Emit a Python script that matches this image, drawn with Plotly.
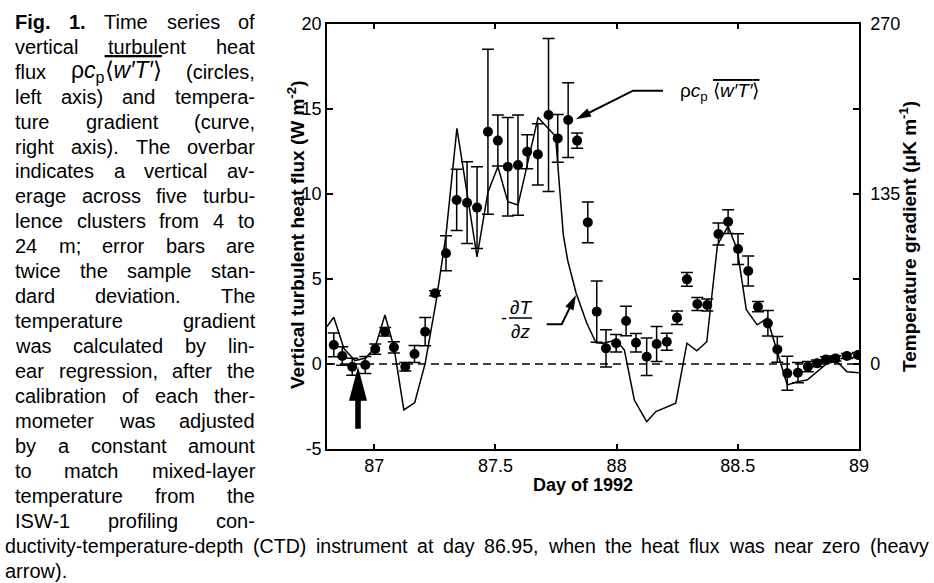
import numpy as np
import plotly.graph_objects as go

# ---------------- data ----------------
# vertical turbulent heat flux (circles, left axis, W m^-2)
flux_day = [86.833, 86.868, 86.909, 86.963, 87.004, 87.045, 87.081, 87.128, 87.166, 87.210,
            87.251, 87.296, 87.340, 87.383, 87.424, 87.469, 87.510, 87.551, 87.593, 87.631,
            87.675, 87.719, 87.757, 87.800, 87.837, 87.881, 87.918, 87.956, 87.998, 88.039,
            88.080, 88.124, 88.165, 88.207, 88.249, 88.290, 88.333, 88.374, 88.420, 88.460,
            88.501, 88.543, 88.583, 88.624, 88.663, 88.704, 88.748, 88.789, 88.827, 88.864,
            88.903, 88.950, 88.996]
flux_val = [1.12, 0.47, -0.16, -0.06, 0.88, 1.90, 0.98, -0.16, 0.59, 1.90,
            4.16, 6.51, 9.65, 9.49, 9.20, 13.66, 13.14, 11.60, 11.70, 12.49,
            12.33, 14.65, 13.27, 14.35, 13.14, 8.33, 3.08, 0.92, 1.22, 2.53,
            1.25, 0.43, 1.18, 1.31, 2.72, 4.98, 3.53, 3.47, 7.65, 8.37,
            6.76, 5.47, 3.37, 2.39, 0.86, -0.55, -0.51, -0.16, 0.04, 0.27,
            0.33, 0.47, 0.53]
flux_err = [0.70, 0.55, 0.50, 0.50, 0.30, 0.25, 0.33, 0.25, 0.50, 0.83,
            0.15, 1.03, 1.80, 2.40, 2.40, 4.85, 1.50, 2.90, 2.95, 1.00,
            1.80, 4.50, 1.40, 2.20, 0.45, 1.20, 1.80, 1.10, 0.52, 0.87,
            0.54, 1.10, 1.03, 0.50, 0.40, 0.40, 0.38, 0.35, 0.65, 0.70,
            0.90, 0.88, 0.30, 0.75, 0.76, 1.00, 0.60, 0.30, 0.20, 0.15,
            0.15, 0.15, 0.15]

# temperature gradient (curve, right axis, uK m^-1)
grad_day = [86.805, 86.833, 86.875, 86.920, 86.965, 87.004, 87.044, 87.081, 87.122, 87.167,
            87.210, 87.255, 87.296, 87.341, 87.424, 87.469, 87.510, 87.551, 87.593, 87.676,
            87.748, 87.780, 87.798, 87.833, 87.877, 87.915, 87.943, 87.998, 88.032, 88.073,
            88.124, 88.162, 88.244, 88.290, 88.331, 88.372, 88.416, 88.460, 88.498, 88.535,
            88.580, 88.621, 88.704, 88.745, 88.786, 88.827, 88.868, 88.910, 88.950, 89.000]
grad_val = [29.7, 37.1, 12.2, 2.7, 4.7, 13.5, 38.9, 13.5, -36.5, -30.6,
            0.5, 49.5, 102.6, 187.1, 85.1, 136.4, 156.6, 128.9, 126.2, 195.8,
            180.9, 102.6, 82.4, 56.2, 32.3, 16.9, 16.5, 19.0, 11.1, -28.6,
            -45.8, -37.8, -31.1, 16.5, 10.5, 17.7, 94.5, 109.4, 90.5, 43.2,
            31.1, 36.3, -16.7, -14.0, -12.7, -6.1, 0.5, 1.9, -6.1, -6.9]

x_tickvals = [87, 87.5, 88, 88.5, 89]
x_ticktext = ["87", "87.5", "88", "88.5", "89"]
y_tickvals = [-5, 0, 5, 10, 15, 20]
y_ticktext = ["-5", "0", "5", "10", "15", "20"]
y2_tickvals = [0, 135, 270]
y2_ticktext = ["0", "135", "270"]

# ---------------- geometry ----------------
W, H = 934, 583
ML, MR, MT, MB = 327, 75, 24, 134
PW, PH = W - ML - MR, H - MT - MB
XR = [86.805, 89.0]
YR = [-5, 20]
Y2R = [-67.5, 270]
PXD = PW / (XR[1] - XR[0])
PYU = PH / (YR[1] - YR[0])

def px2x(px): return XR[0] + (px - ML) / PXD
def py2y(py): return YR[1] - (py - MT) / PYU
def px2p(px): return (px - ML) / PW
def py2p(py): return 1 - (py - MT) / PH

FONT = "Liberation Sans, Arial, Helvetica, sans-serif"

fig = go.Figure()
fig.add_trace(go.Scatter(
    x=grad_day, y=grad_val, yaxis="y2", mode="lines",
    line=dict(color="black", width=1.5), hoverinfo="skip"))
fig.add_trace(go.Scatter(
    x=flux_day, y=flux_val, mode="markers",
    marker=dict(symbol="circle", size=10, color="black"),
    error_y=dict(type="data", array=flux_err, visible=True,
                 color="black", thickness=1.5, width=6)))

shapes = []
annotations = []

# zero reference line
shapes.append(dict(type="line", xref="x domain", yref="y", x0=0, x1=1, y0=0, y1=0,
                   line=dict(color="black", width=1.5, dash="8px,5px"), layer="below"))

# ---------- arrows ----------
def head(tip, tail, L=15, hw=4.5):
    dx = (tail[0] - tip[0]) * PXD
    dy = (tail[1] - tip[1]) * PYU
    n = np.hypot(dx, dy)
    ux, uy = dx / n, dy / n
    bx, by = ux * L, uy * L
    px_, py_ = -uy * hw, ux * hw
    path = "M0,0 L{:.2f},{:.2f} L{:.2f},{:.2f} Z".format(bx + px_, by + py_, bx - px_, by - py_)
    shapes.append(dict(type="path", xref="x", yref="y", xsizemode="pixel", ysizemode="pixel",
                       xanchor=tip[0], yanchor=tip[1], path=path,
                       fillcolor="black", line=dict(width=0)))
    return (tip[0] + bx * 0.6 / PXD, tip[1] + by * 0.6 / PYU)

def bent_arrow(tip, bend, end):
    stop = head(tip, bend)
    shapes.append(dict(type="path", xref="x", yref="y",
                       path="M{},{} L{},{} L{},{}".format(end[0], end[1], bend[0], bend[1], stop[0], stop[1]),
                       line=dict(color="black", width=2)))

a1_tip = (px2x(576), py2y(119.3))
a1_bend = (px2x(633), py2y(90.7))
a1_end = (px2x(663), py2y(90.7))
bent_arrow(a1_tip, a1_bend, a1_end)

a2_tip = (px2x(576), py2y(295))
a2_bend = (px2x(561.7), py2y(324.3))
a2_end = (px2x(546.7), py2y(324.3))
bent_arrow(a2_tip, a2_bend, a2_end)

# heavy arrow (pixel-sized shape anchored at its tip)
shapes.append(dict(type="path", xref="x", yref="y", xsizemode="pixel", ysizemode="pixel",
                   xanchor=px2x(358), yanchor=py2y(366.7),
                   path="M0,0 L-9,-34 L-2.8,-34 L-2.8,-62 L2.8,-62 L2.8,-34 L9,-34 Z",
                   fillcolor="black", line=dict(width=0)))

# ---------- in-plot labels ----------
annotations.append(dict(xref="x", yref="y", x=px2x(680), y=py2y(92), xanchor="left", yanchor="middle",
                        text='ρ<i>c</i><sub>p</sub> <span style="text-decoration:overline">⟨<i>w′T′</i>⟩</span>',
                        showarrow=False, font=dict(family=FONT, size=19, color="black"),
                        borderpad=0, borderwidth=0))
annotations.append(dict(xref="x", yref="y", x=px2x(504), y=py2y(318), text="-", showarrow=False,
                        font=dict(family=FONT, size=18, color="black")))
annotations.append(dict(xref="x", yref="y", x=px2x(521), y=py2y(307), text="<i>∂T</i>", showarrow=False,
                        font=dict(family=FONT, size=19, color="black")))
annotations.append(dict(xref="x", yref="y", x=px2x(520), y=py2y(331), text="<i>∂z</i>", showarrow=False,
                        font=dict(family=FONT, size=19, color="black")))
shapes.append(dict(type="line", xref="x", yref="y", x0=px2x(509), x1=px2x(532), y0=py2y(318), y1=py2y(318),
                   line=dict(color="black", width=1.5)))

# ---------- axis titles ----------
annotations.append(dict(xref="paper", yref="paper", x=px2p(583), y=py2p(497),
                        text="<b>Day of 1992</b>", showarrow=False,
                        font=dict(family=FONT, size=18, color="black")))
annotations.append(dict(xref="paper", yref="paper", x=px2p(282), y=py2p(235), textangle=-90,
                        text="<b>Vertical turbulent heat flux (W m<sup>-2</sup>)</b>", showarrow=False,
                        font=dict(family=FONT, size=19, color="black")))
annotations.append(dict(xref="paper", yref="paper", x=px2p(922), y=py2p(237), textangle=-90,
                        text="<b>Temperature gradient (μK m<sup>-1</sup>)</b>", showarrow=False,
                        font=dict(family=FONT, size=19, color="black")))

# ---------- caption (justified by word placement) ----------
AW = {' ': 278, '!': 278, '(': 333, ')': 333, ',': 278, '-': 333, '.': 278, ':': 278, ';': 278}
for d in "0123456789":
    AW[d] = 556
AW.update(dict(A=667, B=667, C=722, D=722, E=667, F=611, G=778, H=722, I=278, J=500, K=667, L=556,
               M=833, N=722, O=778, P=667, Q=778, R=722, S=667, T=611, U=722, V=667, W=944, X=667,
               Y=667, Z=611, a=556, b=556, c=500, d=556, e=556, f=278, g=556, h=556, i=222, j=222,
               k=500, l=222, m=833, n=556, o=556, p=556, q=556, r=333, s=500, t=278, u=556, v=500,
               w=722, x=500, y=500, z=500))

def em(s):
    return sum(AW.get(ch, 556) for ch in s) / 1000.0

special = ('<span style="font-size:23px">ρ<i>c</i><sub>p</sub>'
           '<span style="text-decoration:overline">⟨<i>w′T′</i>⟩</span></span>', 4.5)
caption_lines = [
    [("<b>Fig.</b>", 1.778), ("<b>1.</b>", 0.834), "Time", "series", "of"],
    "vertical turbulent heat",
    ["flux", special, "(circles,"],
    "left axis) and tempera-",
    "ture gradient (curve,",
    "right axis). The overbar",
    "indicates a vertical av-",
    "erage across five turbu-",
    "lence clusters from 4 to",
    "24 m; error bars are",
    "twice the sample stan-",
    "dard deviation. The",
    "temperature gradient",
    "was calculated by lin-",
    "ear regression, after the",
    "calibration of each ther-",
    "mometer was adjusted",
    "by a constant amount",
    "to match mixed-layer",
    "temperature from the",
    "ISW-1 profiling con-",
]
bottom_line = "ductivity-temperature-depth (CTD) instrument at day 86.95, when the heat flux was near zero (heavy"
last_line = "arrow)."

def place(tokens, py, x0, x1, fs, justify=True):
    if isinstance(tokens, str):
        tokens = tokens.split(" ")
    items = []
    for t in tokens:
        if isinstance(t, tuple):
            items.append((t[0], t[1] * fs))
        else:
            items.append((t, em(t) * fs))
    total = sum(w for _, w in items)
    if justify and len(items) > 1:
        gap = (x1 - x0 - total) / (len(items) - 1)
    else:
        gap = 0.278 * fs
    x = x0
    for html, w in items:
        annotations.append(dict(xref="paper", yref="paper", x=px2p(x), y=py2p(py), text=html,
                                showarrow=False, xanchor="left", yanchor="middle",
                                borderpad=0, borderwidth=0,
                                font=dict(family=FONT, size=fs, color="black")))
        x += w + gap

LINE0, LSTEP = 21.7, 24.96
for i, ln in enumerate(caption_lines):
    place(ln, LINE0 + LSTEP * i, 15, 255, 20)
place(bottom_line, LINE0 + LSTEP * 21, 5, 929, 19.6)
place(last_line, LINE0 + LSTEP * 22, 5, 929, 20, justify=False)

tick_common = dict(tickwidth=1.5, tickcolor="black", showline=True, linewidth=1.5, linecolor="black",
                   showgrid=False, zeroline=False, tickfont=dict(family=FONT, size=18, color="black"))

fig.update_layout(
    width=W, height=H,
    margin=dict(l=ML, r=MR, t=MT, b=MB, pad=0),
    paper_bgcolor="white", plot_bgcolor="white",
    showlegend=False,
    font=dict(family=FONT, size=18, color="black"),
    xaxis=dict(range=XR, tickvals=x_tickvals, ticktext=x_ticktext, ticks="inside", ticklen=5,
               mirror="ticks", **tick_common),
    yaxis=dict(range=YR, tickvals=y_tickvals, ticktext=y_ticktext, ticks="inside", ticklen=6,
               **tick_common),
    yaxis2=dict(range=Y2R, overlaying="y", side="right", tickvals=y2_tickvals, ticktext=y2_ticktext,
                ticks="inside", ticklen=6, ticklabelstandoff=6,
                minor=dict(tickmode="linear", tick0=0, dtick=67.5, ticks="inside", ticklen=6,
                           tickwidth=1.5, tickcolor="black", showgrid=False),
                **tick_common),
    shapes=shapes,
    annotations=annotations,
)

fig.write_html("out.html", config={"displayModeBar": False},
               post_script="document.body.style.margin='0';document.body.style.padding='0';")
